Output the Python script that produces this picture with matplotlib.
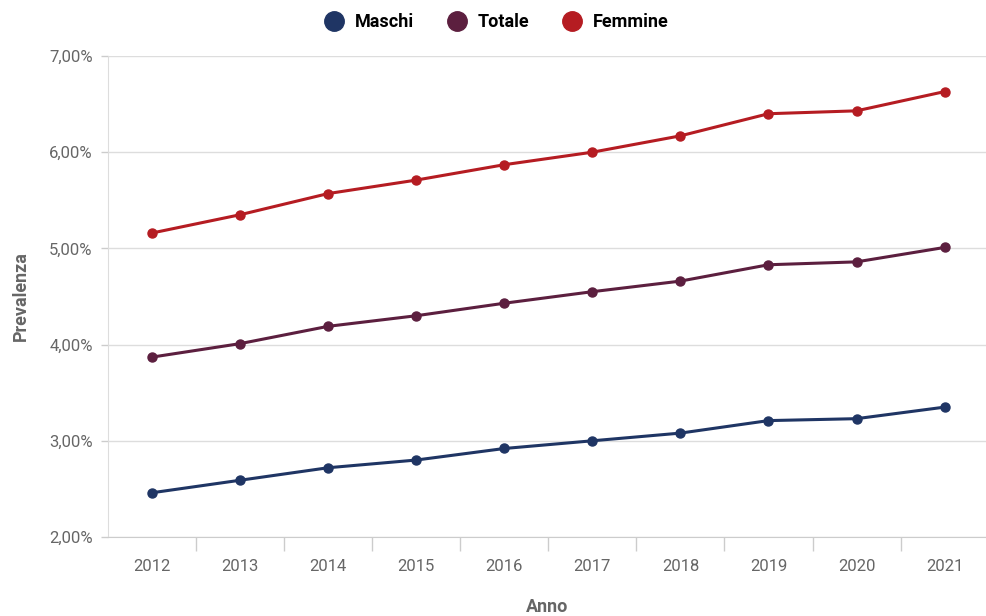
import numpy as np
import matplotlib.pyplot as plt
from matplotlib.ticker import FuncFormatter
from matplotlib.lines import Line2D

anni = ['2012', '2013', '2014', '2015', '2016', '2017', '2018', '2019', '2020', '2021']
maschi = [2.46, 2.59, 2.72, 2.80, 2.92, 3.00, 3.08, 3.21, 3.23, 3.35]
totale = [3.87, 4.01, 4.19, 4.30, 4.43, 4.55, 4.66, 4.83, 4.86, 5.01]
femmine = [5.16, 5.35, 5.57, 5.71, 5.87, 6.00, 6.17, 6.40, 6.43, 6.63]

colori = {'Maschi': '#1f3564', 'Totale': '#5c1f3f', 'Femmine': '#b51c22'}
grigio = '#666666'

plt.rcParams['font.family'] = ['Roboto', 'DejaVu Sans']

fig = plt.figure(figsize=(9.86, 6.16), dpi=100)
ax = fig.add_axes([108 / 986, 1 - 537 / 616, (986 - 108) / 986, (537 - 56) / 616])

x = np.arange(len(anni))
for nome, serie in [('Maschi', maschi), ('Totale', totale), ('Femmine', femmine)]:
    ax.plot(x, serie, color=colori[nome], lw=2.2, marker='o', ms=6.5,
            solid_capstyle='round', zorder=3, clip_on=False)

ax.set_xlim(-0.5, 9.47)
ax.set_ylim(2, 7)
ax.set_yticks(np.arange(2, 7.01, 1))
ax.yaxis.set_major_formatter(FuncFormatter(lambda v, p: f'{v:.2f}%'.replace('.', ',')))
ax.grid(axis='y', color='#dddddd', lw=1)
ax.set_axisbelow(True)

# etichette degli anni al centro, tacche tra una categoria e l'altra
ax.set_xticks(x)
ax.set_xticklabels(anni)
ax.set_xticks(np.arange(0.5, 9.5, 1), minor=True)
ax.tick_params(axis='x', which='major', length=0, pad=16, labelsize=12, labelcolor=grigio)
ax.tick_params(axis='x', which='minor', length=10, color='#cccccc', width=1)
ax.tick_params(axis='y', length=5, color='#cccccc', width=1, pad=6, labelsize=12, labelcolor=grigio)

for s in ['top', 'right']:
    ax.spines[s].set_visible(False)
ax.spines['left'].set_color('#dddddd')
ax.spines['bottom'].set_color('#cccccc')

ax.set_ylabel('Prevalenza', fontsize=13, fontweight='bold', color=grigio, labelpad=14)
ax.set_xlabel('Anno', fontsize=13, fontweight='bold', color=grigio, labelpad=17)

handles = [Line2D([], [], ls='none', marker='o', ms=14, color=colori[n]) for n in colori]
fig.legend(handles, list(colori), loc='upper center', bbox_to_anchor=(0.503, 1.005), ncol=3,
           frameon=False, prop={'weight': 'bold', 'size': 13}, handletextpad=0.55,
           columnspacing=1.75, handlelength=1.2)

fig.savefig('out.png', dpi=100)
